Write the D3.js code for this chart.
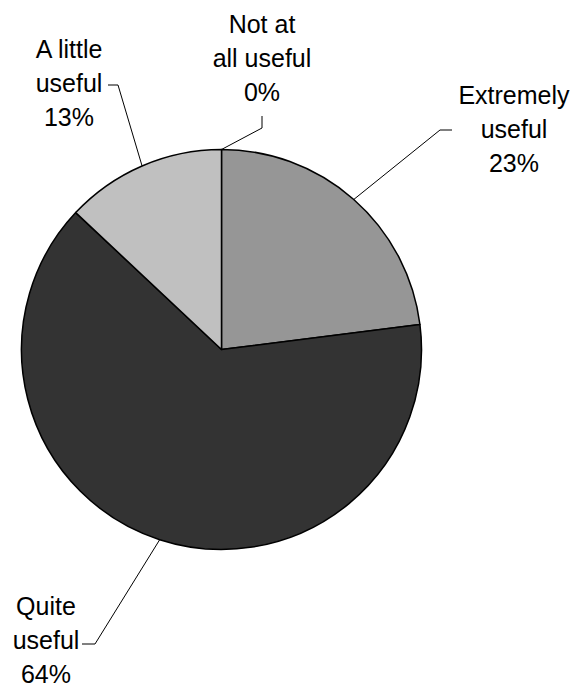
<!DOCTYPE html>
<html>
<head>
<meta charset="utf-8">
<script src="https://cdn.jsdelivr.net/npm/d3@7"></script>
<style>
  html, body { margin: 0; padding: 0; background: #fff; }
  text { font-family: "Liberation Sans", Arial, sans-serif; }
</style>
</head>
<body>
<svg id="chart" width="576" height="687"></svg>
<script>
const categories = ["Extremely useful", "Quite useful", "A little useful", "Not at all useful"];
const values = [23, 64, 13, 0];
const labelLines = [["Extremely", "useful", "23%"], ["Quite", "useful", "64%"], ["A little", "useful", "13%"], ["Not at", "all useful", "0%"]];
const colors = ["#969696", "#333333", "#c0c0c0", "#ffffff"];

const svg = d3.select("#chart");
const cx = 221.5, cy = 349.5, r = 200;

const pie = d3.pie().sort(null).value(d => d.value);
const data = categories.map((c, i) => ({ name: c, value: values[i], color: colors[i], lines: labelLines[i] }));
const arcs = pie(data);
const arc = d3.arc().innerRadius(0).outerRadius(r);

const g = svg.append("g").attr("transform", `translate(${cx},${cy})`);
g.selectAll("path.slice").data(arcs.filter(a => a.data.value > 0)).join("path")
  .attr("class", "slice")
  .attr("d", arc)
  .attr("fill", d => d.data.color)
  .attr("stroke", "#000")
  .attr("stroke-width", 1.5)
  .attr("stroke-linejoin", "round");

// label positions (text centre x, first baseline y) and leader elbows in page coordinates
const labelPos = [
  { x: 514, y: 104, elbow: [[452, 130], [440, 130]] },
  { x: 46, y: 615, elbow: [[82, 644], [95, 644]] },
  { x: 69, y: 58, elbow: [[108, 85], [118, 85]] },
  { x: 262, y: 33, elbow: [[262, 116], [262, 128]] }
];
const lineH = 34;

arcs.forEach((a, i) => {
  const mid = (a.startAngle + a.endAngle) / 2;
  const px = cx + r * Math.sin(mid), py = cy - r * Math.cos(mid);
  const lp = labelPos[i];
  const pts = [lp.elbow[0], lp.elbow[1], [px, py]];
  svg.append("path")
    .attr("d", d3.line()(pts))
    .attr("fill", "none")
    .attr("stroke", "#000")
    .attr("stroke-width", 1);
  const t = svg.append("text")
    .attr("text-anchor", "middle")
    .attr("font-size", 25)
    .attr("fill", "#000");
  a.data.lines.forEach((ln, j) => {
    t.append("tspan").attr("x", lp.x).attr("y", lp.y + j * lineH).text(ln);
  });
});
</script>
</body>
</html>
